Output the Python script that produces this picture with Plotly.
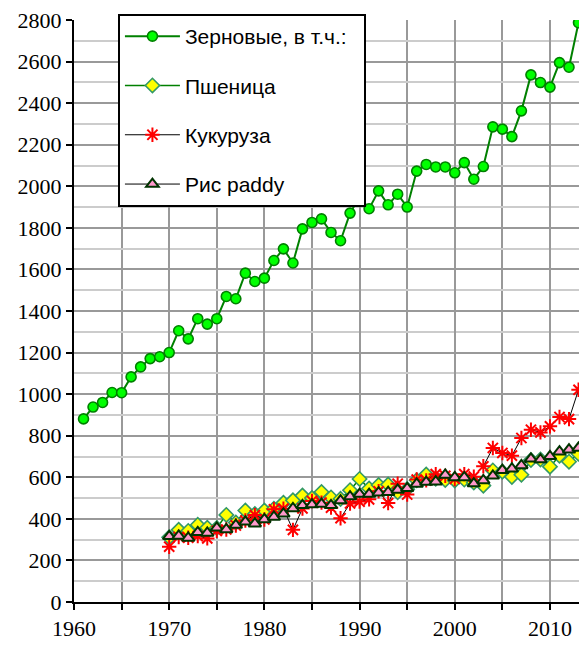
import plotly.graph_objects as go

years_grain = [1961, 1962, 1963, 1964, 1965, 1966, 1967, 1968, 1969, 1970,
               1971, 1972, 1973, 1974, 1975, 1976, 1977, 1978, 1979, 1980,
               1981, 1982, 1983, 1984, 1985, 1986, 1987, 1988, 1989, 1990,
               1991, 1992, 1993, 1994, 1995, 1996, 1997, 1998, 1999, 2000,
               2001, 2002, 2003, 2004, 2005, 2006, 2007, 2008, 2009, 2010,
               2011, 2012, 2013]
grain = [881, 938, 960, 1008, 1007, 1083, 1131, 1171, 1180, 1200,
         1305, 1266, 1363, 1337, 1363, 1470, 1459, 1582, 1542, 1558,
         1643, 1699, 1631, 1795, 1826, 1843, 1778, 1738, 1871, 1949,
         1892, 1978, 1911, 1962, 1900, 2073, 2105, 2093, 2093, 2065,
         2114, 2034, 2095, 2286, 2275, 2239, 2363, 2536, 2499, 2477,
         2595, 2573, 2787]

years_crops = [1970, 1971, 1972, 1973, 1974, 1975, 1976, 1977, 1978, 1979,
               1980, 1981, 1982, 1983, 1984, 1985, 1986, 1987, 1988, 1989,
               1990, 1991, 1992, 1993, 1994, 1995, 1996, 1997, 1998, 1999,
               2000, 2001, 2002, 2003, 2004, 2005, 2006, 2007, 2008, 2009,
               2010, 2011, 2012, 2013]
wheat = [311, 347, 342, 371, 357, 356, 419, 382, 440, 423,
         440, 449, 477, 489, 512, 500, 529, 503, 496, 538,
         592, 546, 563, 565, 528, 543, 586, 613, 593, 587,
         585, 589, 575, 560, 633, 627, 602, 612, 683, 686,
         651, 704, 675, 713]
maize = [266, 313, 309, 317, 306, 342, 349, 368, 392, 418,
         397, 446, 449, 347, 450, 486, 478, 454, 403, 474,
         483, 494, 533, 476, 569, 517, 589, 585, 615, 607,
         592, 615, 603, 653, 741, 717, 704, 789, 829, 816,
         845, 890, 880, 1021]
rice = [316, 318, 308, 335, 332, 357, 349, 370, 386, 377,
        397, 409, 424, 450, 465, 469, 471, 465, 488, 507,
        519, 519, 526, 528, 539, 547, 568, 577, 579, 611,
        599, 599, 570, 585, 607, 634, 641, 657, 689, 685,
        701, 723, 733, 741]

names = ["Зерновые, в т.ч.:", "Пшеница", "Кукуруза", "Рис paddy"]

SERIF = "Times New Roman, Liberation Serif, DejaVu Serif, serif"
SANS = "Arial, Liberation Sans, sans-serif"

fig = go.Figure()
fig.add_trace(go.Scatter(
    x=years_grain, y=grain, name=names[0] + "\u00a0\u00a0", mode="lines+markers", legendgroup="g1",
    line=dict(color="#008000", width=2),
    marker=dict(symbol="circle", size=10, color="#00FF00", line=dict(color="#008000", width=1.6))))
fig.add_trace(go.Scatter(
    x=years_crops, y=wheat, name=names[1], mode="lines+markers", legendgroup="g2",
    line=dict(color="#008000", width=1.5),
    marker=dict(symbol="diamond", size=11, color="#FFFF00", line=dict(color="#339966", width=1.6))))
fig.add_trace(go.Scatter(
    x=years_crops, y=maize, name=names[2], mode="lines+markers", legendgroup="g3",
    line=dict(color="#000000", width=1),
    marker=dict(symbol="asterisk-open", size=12, color="#FF0000", line=dict(color="#FF0000", width=2))))
fig.add_trace(go.Scatter(
    x=years_crops, y=rice, name=names[3], mode="lines+markers", legendgroup="g4",
    line=dict(color="#000000", width=1),
    marker=dict(symbol="triangle-up", size=11, color="#FF99CC", line=dict(color="#003300", width=2))))

fig.update_layout(
    width=579, height=646,
    margin=dict(l=74, r=0, t=20, b=44),
    paper_bgcolor="white", plot_bgcolor="white",
    showlegend=True,
    legend=dict(
        x=0.087, y=1.0103, xanchor="left", yanchor="top",
        bgcolor="white", bordercolor="black", borderwidth=2,
        font=dict(family=SANS, size=21, color="black"),
        tracegroupgap=19, itemwidth=55,
    ),
    xaxis=dict(
        range=[1960, 2013.05], dtick=10, tick0=1960,
        showgrid=True, gridcolor="#999999", gridwidth=1.5,
        showline=True, linecolor="black", linewidth=2,
        ticks="outside", ticklen=6, tickwidth=2, tickcolor="black",
        tickfont=dict(family=SERIF, size=22, color="black"),
        minor=dict(dtick=5, showgrid=True, gridcolor="#999999", gridwidth=1.5,
                   ticks="outside", ticklen=6, tickwidth=2, tickcolor="black"),
        zeroline=False,
    ),
    yaxis=dict(
        range=[0, 2800], dtick=200, tick0=0,
        showgrid=True, gridcolor="#999999", gridwidth=1.5,
        showline=True, linecolor="black", linewidth=2,
        ticks="outside", ticklen=6, tickwidth=2, tickcolor="black",
        tickfont=dict(family=SERIF, size=22, color="black"),
        minor=dict(dtick=100, showgrid=True, gridcolor="#cccccc", gridwidth=1.5),
        zeroline=False,
    ),
)

fig.write_html(
    "out.html",
    config={"displayModeBar": False},
    post_script="document.body.style.margin='0';document.body.style.overflow='hidden';",
)
